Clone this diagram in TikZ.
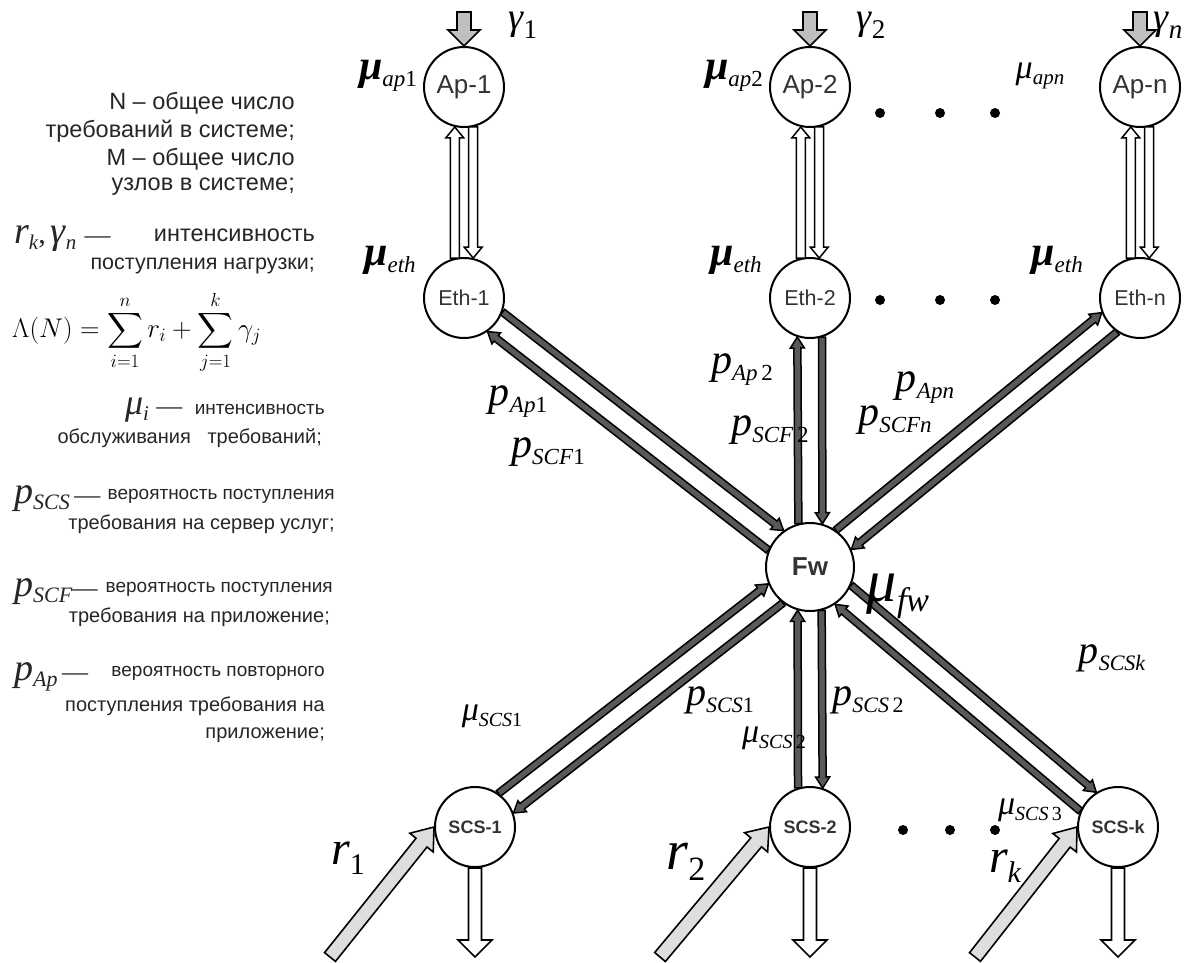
\RequirePackage{fix-cm}
\documentclass[tikz,border=0pt]{standalone}
\usepackage{amsmath}
\usepackage[no-math]{fontspec}
\setmainfont{Liberation Sans}
\newfontfamily\tms{Liberation Serif}
\usetikzlibrary{calc}
% block arrow polygon: [style]{from}{to}{shaft half width}{head half width}{head length}
\newcommand\barrow[6][]{%
  \draw[#1] ($(#2)!#4!90:(#3)$) -- ($(#3)!#6!(#2)!#4!-90:(#2)$)
    -- ($(#3)!#6!(#2)!#5!-90:(#2)$) -- (#3)
    -- ($(#3)!#6!(#2)!#5!90:(#2)$) -- ($(#3)!#6!(#2)!#4!90:(#2)$)
    -- ($(#2)!#4!-90:(#3)$) -- cycle;}
% label: {base size}{sub size}{base}{drop}{subscript}
\newcommand\lb[5]{{\tms\itshape\fontsize{#1}{#1}\selectfont #3\fontsize{#2}{#2}\selectfont\raisebox{-#4}{#5}}}
\newcommand\up[1]{\textup{#1}}
\tikzset{
  nd/.style={circle, draw, line width=2pt, minimum size=80pt, inner sep=0pt, text=black!80},
  apf/.style={font=\fontsize{26}{26}\selectfont},
  ethf/.style={font=\fontsize{21.5}{21.5}\selectfont},
  fwn/.style={nd, minimum size=88pt, font=\fontsize{26}{26}\selectfont\bfseries},
  scsf/.style={font=\fontsize{18}{18}\selectfont\bfseries},
  inarrow/.style={line width=1.6pt, draw=black, fill=black!25, line join=miter},
  rarrow/.style={line width=1.6pt, draw=black, fill=black!13, line join=miter},
  outarrow/.style={line width=1.6pt, draw=black, fill=white, line join=miter},
  hollow/.style={line width=1.5pt, draw=black, fill=white, line join=miter},
  link/.style={line width=1.5pt, draw=black, fill=black!65, line join=miter},
  ml/.style={inner sep=0pt},
  lt/.style={font=\fontsize{20}{24}\selectfont, text=black!85, inner sep=0pt},
  lts/.style={font=\fontsize{19}{22}\selectfont, text=black!85, inner sep=0pt},
  ltb/.style={font=\fontsize{23.5}{26}\selectfont, text=black!85, inner sep=0pt},
  ltm/.style={font=\fontsize{21.5}{24}\selectfont, text=black!85, inner sep=0pt},
  mt/.style={text=black!85, inner sep=0pt},
  dsh/.style={font=\tms\fontsize{26}{26}\selectfont, inner sep=0pt, text=black!85},
  dot/.style={fill=black},
}
\begin{document}
\begin{tikzpicture}[x=1pt,y=-1pt]
\useasboundingbox[fill=white] (0,0) rectangle (1190,962);

% nodes
\node[nd,apf] (Ap1) at (464,87) {Ap-1};
\node[nd,apf] (Ap2) at (810,87) {Ap-2};
\node[nd,apf] (Apn) at (1140,87) {Ap-n};
\node[nd,ethf] (Eth1) at (464,298) {Eth-1};
\node[nd,ethf] (Eth2) at (810,298) {Eth-2};
\node[nd,ethf] (Ethn) at (1140,298) {Eth-n};
\node[fwn] (Fw) at (810,567) {Fw};
\node[nd,scsf] (SCS1) at (475,827) {SCS-1};
\node[nd,scsf] (SCS2) at (810,827) {SCS-2};
\node[nd,scsf] (SCSk) at (1118,827) {SCS-k};

% free ends
\coordinate (g1) at (464,12);
\coordinate (g2) at (810,12);
\coordinate (gn) at (1140,12);
\coordinate (r1s) at (330,957);
\coordinate (r2s) at (660,957);
\coordinate (rks) at (975,957);
\coordinate (o1) at (475,957);
\coordinate (o2) at (810,957);
\coordinate (ok) at (1118,957);

% incoming gamma arrows
\barrow[inarrow]{g1}{Ap1.north}{7pt}{16pt}{16pt}
\barrow[inarrow]{g2}{Ap2.north}{7pt}{16pt}{16pt}
\barrow[inarrow]{gn}{Apn.north}{7pt}{16pt}{16pt}

% Ap <-> Eth
\barrow[hollow]{Eth1.103}{Ap1.257}{4.5pt}{9pt}{11pt}
\barrow[hollow]{Ap1.283}{Eth1.77}{4.5pt}{9pt}{11pt}
\barrow[hollow]{Eth2.103}{Ap2.257}{4.5pt}{9pt}{11pt}
\barrow[hollow]{Ap2.283}{Eth2.77}{4.5pt}{9pt}{11pt}
\barrow[hollow]{Ethn.103}{Apn.257}{4.5pt}{9pt}{11pt}
\barrow[hollow]{Apn.283}{Ethn.77}{4.5pt}{9pt}{11pt}

% Eth <-> Fw
\barrow[link]{Eth1.-20.4}{Fw.126.3}{3.5pt}{7pt}{11pt}
\barrow[link]{Fw.158.0}{Eth1.-55.3}{3.5pt}{7pt}{11pt}
\barrow[link]{Fw.105.8}{Eth2.252.5}{3.5pt}{7pt}{11pt}
\barrow[link]{Eth2.287.5}{Fw.74.2}{3.5pt}{7pt}{11pt}
\barrow[link]{Fw.55.0}{Ethn.201.7}{3.5pt}{7pt}{11pt}
\barrow[link]{Ethn.236.7}{Fw.23.4}{3.5pt}{7pt}{11pt}

% Fw <-> SCS
\barrow[link]{SCS1.55.3}{Fw.202.0}{3.5pt}{7pt}{11pt}
\barrow[link]{Fw.233.6}{SCS1.20.3}{3.5pt}{7pt}{11pt}
\barrow[link]{SCS2.107.5}{Fw.254.2}{3.5pt}{7pt}{11pt}
\barrow[link]{Fw.285.8}{SCS2.72.5}{3.5pt}{7pt}{11pt}
\barrow[link]{Fw.-24.4}{SCSk.122.3}{3.5pt}{7pt}{11pt}
\barrow[link]{SCSk.157.3}{Fw.-56.0}{3.5pt}{7pt}{11pt}

% r arrows
\barrow[rarrow]{r1s}{SCS1.west}{7pt}{15pt}{20pt}
\barrow[rarrow]{r2s}{SCS2.west}{7pt}{15pt}{20pt}
\barrow[rarrow]{rks}{SCSk.west}{7pt}{15pt}{20pt}

% outgoing
\barrow[outarrow]{SCS1.south}{o1}{6.5pt}{17pt}{17pt}
\barrow[outarrow]{SCS2.south}{o2}{6.5pt}{17pt}{17pt}
\barrow[outarrow]{SCSk.south}{ok}{6.5pt}{17pt}{17pt}

% dots
\foreach \x in {880,940,995} {
  \fill[dot] (\x,113) circle (5pt);
  \fill[dot] (\x,300) circle (5pt);
}
\foreach \x in {903,950,995} \fill[dot] (\x,830) circle (5pt);

% labels on diagram
\node[ml] (lg1) at (523,25) {\lb{38}{27}{γ}{9pt}{\up{1}}};
\node[ml] (lg2) at (871,25) {\lb{38}{27}{γ}{9pt}{\up{2}}};
\node[ml] (lgn) at (1168,25) {\lb{38}{27}{γ}{9pt}{n}};
\node[ml] (lmap1) at (388,76) {\lb{42}{23}{\bfseries μ}{7pt}{\mdseries ap\up{1}}};
\node[ml] (lmap2) at (734,76) {\lb{42}{23}{\bfseries μ}{7pt}{\mdseries ap\up{2}}};
\node[ml] (lmapn) at (1040,76) {\lb{34}{21}{μ}{6pt}{apn}};
\node[ml] (lme1) at (390,260) {\lb{42}{23}{\bfseries μ}{7pt}{\mdseries eth}};
\node[ml] (lme2) at (736,260) {\lb{42}{23}{\bfseries μ}{7pt}{\mdseries eth}};
\node[ml] (lmen) at (1057,260) {\lb{42}{23}{\bfseries μ}{7pt}{\mdseries eth}};
\node[ml] (lpa1) at (518,402) {\lb{42}{23}{p}{7pt}{Ap\up{1}}};
\node[ml] (lpf1) at (548,452) {\lb{42}{23}{p}{7pt}{SCF\up{1}}};
\node[ml] (lpa2) at (742,370) {\lb{42}{23}{p}{7pt}{Ap\,\up{2}}};
\node[ml] (lpf2) at (770,430) {\lb{42}{23}{p}{7pt}{SCF\,\up{2}}};
\node[ml] (lpan) at (925,388) {\lb{42}{23}{p}{7pt}{Apn}};
\node[ml] (lpfn) at (895,420) {\lb{42}{23}{p}{7pt}{SCFn}};
\node[ml] (lmfw) at (898,596) {\lb{60}{34}{μ}{10pt}{fw}};
\node[ml] (lps1) at (720,700) {\lb{40}{22}{p}{7pt}{SCS\up{1}}};
\node[ml] (lps2) at (868,700) {\lb{40}{22}{p}{7pt}{SCS\,\up{2}}};
\node[ml] (lpsk) at (1112,658) {\lb{40}{22}{p}{7pt}{SCSk}};
\node[ml] (lms1) at (492,716) {\lb{34}{20}{μ}{6pt}{SCS\up{1}}};
\node[ml] (lms2) at (774,738) {\lb{34}{20}{μ}{6pt}{SCS\,\up{2}}};
\node[ml] (lms3) at (1030,810) {\lb{34}{20}{μ}{6pt}{SCS\,\up{3}}};
\node[ml] (lr1) at (348,858) {\lb{48}{30}{r}{10pt}{\up{1}}};
\node[ml] (lr2) at (686,862) {\lb{56}{34}{r}{11pt}{\up{2}}};
\node[ml] (lrk) at (1005,866) {\lb{48}{30}{r}{10pt}{k}};

% left legend
\node[ltb, anchor=east] (t1) at (295,103) {N – общее число};
\node[ltb, anchor=east] (t2) at (295,131) {требований в системе;};
\node[ltb, anchor=east] (t3) at (295,159) {M – общее число};
\node[ltb, anchor=east] (t4) at (295,187) {узлов в системе;};
\node[mt, anchor=base west] (m5) at (14,243)
  {\lb{38}{21}{r}{6pt}{k}{\tms\fontsize{30}{30}\selectfont,\,}\lb{38}{21}{γ}{6pt}{n}};
\node[dsh, anchor=base west] (d5) at ([xshift=8pt]m5.base east) {—};
\node[ltb, anchor=base east] (t5) at (315,241) {интенсивность};
\node[ltm, anchor=east] (t6) at (315,266) {поступления нагрузки;};
\node[font=\fontsize{27}{32}\selectfont, anchor=west, inner sep=0pt] (eq) at (12,332)
  {$\displaystyle \Lambda(N)=\sum_{i=1}^{n} r_i+\sum_{j=1}^{k}\gamma_j$};
\node[lts, anchor=base east] (t7) at (325,414) {интенсивность};
\node[dsh, anchor=base east] (d7) at ([xshift=-12pt]t7.base west) {—};
\node[mt, anchor=base east] (m7) at ([xshift=-7pt]d7.base west) {\lb{36}{21}{μ}{6pt}{i}};
\node[lt, anchor=east] (t8) at (322,438) {обслуживания \ \ требований;};
\node[mt, anchor=base west] (m9) at (14,503) {\lb{38}{22}{p}{6pt}{SCS}};
\node[dsh, anchor=base west] (d9) at ([xshift=4pt]m9.base east) {—};
\node[lts, anchor=base east] (t9) at (335,499) {вероятность поступления};
\node[lt, anchor=east] (t10) at (335,524) {требования на сервер услуг;};
\node[mt, anchor=base west] (m11) at (14,596) {\lb{38}{22}{p}{6pt}{SCF}};
\node[dsh, anchor=base west] (d11) at ([xshift=-1pt]m11.base east) {—};
\node[lts, anchor=base east] (t11) at (333,592) {вероятность поступления};
\node[lt, anchor=east] (t12) at (330,617) {требования на приложение;};
\node[mt, anchor=base west] (m13) at (14,680) {\lb{38}{22}{p}{6pt}{Ap}};
\node[dsh, anchor=base west] (d13) at ([xshift=4pt]m13.base east) {—};
\node[lts, anchor=base east] (t13) at (325,676) {вероятность повторного};
\node[lt, anchor=east] (t14) at (325,706) {поступления требования на};
\node[lt, anchor=east] (t15) at (325,735) {приложение;};
\end{tikzpicture}
\end{document}
